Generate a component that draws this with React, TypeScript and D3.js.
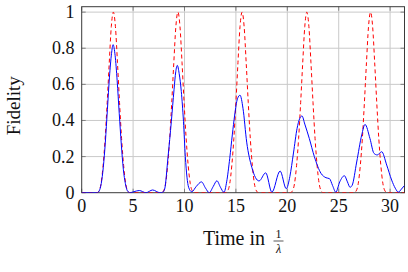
import React from "react";
import * as d3 from "d3";

// axis ticks
const xTicks = [0, 5, 10, 15, 20, 25, 30];
const yTicks = [0, 0.2, 0.4, 0.6, 0.8, 1];
const yTickLabels = ["0", "0.2", "0.4", "0.6", "0.8", "1"];

// red dashed series (time, fidelity)
const idealSeries: [number, number][] = [
  [0, 0], [1.48, 0], [1.68, 0.01], [1.88, 0.05], [2.08, 0.15], [2.28, 0.3], [2.48, 0.5], [2.68, 0.72], [2.88, 0.92],
  [3.08, 1], [3.28, 0.92], [3.48, 0.72], [3.68, 0.5], [3.88, 0.3], [4.08, 0.15], [4.28, 0.05], [4.48, 0.01], [4.68, 0],
  [7.76, 0], [7.96, 0.01], [8.16, 0.05], [8.36, 0.15], [8.56, 0.3], [8.76, 0.5], [8.96, 0.72], [9.16, 0.92],
  [9.36, 1], [9.56, 0.92], [9.76, 0.72], [9.96, 0.5], [10.16, 0.3], [10.36, 0.15], [10.56, 0.05], [10.76, 0.01], [10.96, 0],
  [14.0, 0], [14.2, 0.01], [14.4, 0.05], [14.6, 0.15], [14.8, 0.3], [15.0, 0.5], [15.2, 0.72], [15.4, 0.92],
  [15.6, 1], [15.8, 0.92], [16.0, 0.72], [16.2, 0.5], [16.4, 0.3], [16.6, 0.15], [16.8, 0.05], [17.0, 0.01], [17.2, 0],
  [20.3, 0], [20.5, 0.01], [20.7, 0.05], [20.9, 0.15], [21.1, 0.3], [21.3, 0.5], [21.5, 0.72], [21.7, 0.92],
  [21.9, 1], [22.1, 0.92], [22.3, 0.72], [22.5, 0.5], [22.7, 0.3], [22.9, 0.15], [23.1, 0.05], [23.3, 0.01], [23.5, 0],
  [26.5, 0], [26.7, 0.01], [26.9, 0.05], [27.1, 0.15], [27.3, 0.3], [27.5, 0.5], [27.7, 0.72], [27.9, 0.92],
  [28.1, 1], [28.3, 0.92], [28.5, 0.72], [28.7, 0.5], [28.9, 0.3], [29.1, 0.15], [29.3, 0.05], [29.5, 0.01], [29.7, 0],
  [31.4, 0],
];

// blue solid series (time, fidelity)
const actualSeries: [number, number][] = [
  [0, 0], [1.5, 0], [1.7, 0.01], [1.9, 0.05], [2.1, 0.14], [2.3, 0.28], [2.5, 0.46], [2.7, 0.64], [2.9, 0.77],
  [3.05, 0.82], [3.25, 0.76], [3.45, 0.62], [3.65, 0.44], [3.85, 0.27], [4.05, 0.13], [4.25, 0.05], [4.45, 0.01],
  [4.7, 0], [5.1, 0.006], [5.6, 0.012], [6.25, 0], [6.9, 0.015], [7.6, 0], [7.9, 0.003],
  [8.07, 0.02], [8.4, 0.2], [8.72, 0.395], [8.98, 0.57], [9.15, 0.67], [9.3, 0.705], [9.48, 0.66], [9.69, 0.56],
  [9.9, 0.395], [10.08, 0.2], [10.4, 0.03], [10.7, 0.005], [11.15, 0.035], [11.65, 0.06], [12.05, 0.025], [12.4, 0],
  [12.8, 0.035], [13.15, 0.066], [13.5, 0.03], [13.84, 0.002], [14.1, 0.06], [14.4, 0.19], [14.65, 0.32],
  [14.88, 0.43], [15.15, 0.52], [15.4, 0.54], [15.69, 0.467], [16.05, 0.28], [16.55, 0.14], [17.25, 0.065],
  [17.9, 0.11], [18.5, 0.003], [19.3, 0.12], [19.9, 0.022], [20.25, 0.09], [20.6, 0.22], [20.95, 0.356],
  [21.2, 0.41], [21.43, 0.425], [21.7, 0.38], [22.14, 0.3], [22.63, 0.2], [23.28, 0.107], [23.76, 0.083],
  [24.1, 0.078], [24.4, 0.04], [24.72, 0.003], [25.1, 0.06], [25.55, 0.094], [25.85, 0.06], [26.1, 0.03],
  [26.3, 0.04], [26.75, 0.17], [27.24, 0.32], [27.56, 0.378], [28.04, 0.3], [28.43, 0.218], [28.75, 0.209],
  [29.18, 0.227], [29.67, 0.153], [30.15, 0.07], [30.5, 0.025], [30.8, 0.003], [31.1, 0.02], [31.4, 0.04],
];

const FONT = "'Liberation Serif', 'Times New Roman', serif";

export default function App() {
  const width = 408, height = 272;
  const left = 81.7, right = 404.5, top = 6.7, bottom = 192.7;

  const x = d3.scaleLinear().domain([0, 31.4]).range([left, right]);
  const y = d3.scaleLinear().domain([0, 1.03]).range([bottom, top]);

  const line = d3
    .line<[number, number]>()
    .x((d) => x(d[0]))
    .y((d) => y(d[1]))
    .curve(d3.curveMonotoneX);

  const tickLen = 4;

  return (
    <svg
      width={width}
      height={height}
      style={{ position: "absolute", left: 0, top: 0, background: "#fff" }}
    >
      <defs>
        <clipPath id="plotClip">
          <rect x={left} y={top} width={right - left} height={bottom - top} />
        </clipPath>
      </defs>

      {/* grid */}
      <g stroke="#c9c9c9" strokeWidth={1}>
        {xTicks.slice(1).map((t) => (
          <line key={"gx" + t} x1={x(t)} x2={x(t)} y1={top} y2={bottom} />
        ))}
        {yTicks.slice(1).map((t) => (
          <line key={"gy" + t} x1={left} x2={right} y1={y(t)} y2={y(t)} />
        ))}
      </g>

      {/* tick marks, inside, on all sides */}
      <g stroke="#808080" strokeWidth={1}>
        {xTicks.map((t) => (
          <g key={"tx" + t}>
            <line x1={x(t)} x2={x(t)} y1={bottom} y2={bottom - tickLen} />
            <line x1={x(t)} x2={x(t)} y1={top} y2={top + tickLen} />
          </g>
        ))}
        {yTicks.map((t) => (
          <g key={"ty" + t}>
            <line x1={left} x2={left + tickLen} y1={y(t)} y2={y(t)} />
            <line x1={right} x2={right - tickLen} y1={y(t)} y2={y(t)} />
          </g>
        ))}
      </g>

      {/* frame */}
      <rect
        x={left}
        y={top}
        width={right - left}
        height={bottom - top}
        fill="none"
        stroke="#3a3a3a"
        strokeWidth={1}
      />

      {/* series, drawn over the frame so the zero line shows through */}
      <g clipPath="url(#plotClip)" fill="none">
        <path d={line(idealSeries) || ""} stroke="#ff0000" strokeWidth={1} strokeDasharray="4 3" />
        <path d={line(actualSeries) || ""} stroke="#0000ff" strokeWidth={1} />
      </g>

      {/* tick labels */}
      <g fontFamily={FONT} fontSize={18} fill="#111">
        {xTicks.map((t) => (
          <text key={"lx" + t} x={x(t)} y={212.3} textAnchor="middle">
            {t}
          </text>
        ))}
        {yTicks.map((t, i) => (
          <text key={"ly" + t} x={74.5} y={y(t) + 6} textAnchor="end">
            {yTickLabels[i]}
          </text>
        ))}
      </g>

      {/* axis labels */}
      <text
        fontFamily={FONT}
        fontSize={19}
        fill="#111"
        textAnchor="middle"
        transform={`translate(20,${(top + bottom) / 2 + 6}) rotate(-90)`}
      >
        Fidelity
      </text>
      <g fontFamily={FONT} fill="#111">
        <text x={265} y={245} fontSize={20} textAnchor="end">
          Time in
        </text>
        <text x={278.5} y={237.5} fontSize={12} textAnchor="middle">
          1
        </text>
        <line x1={273.5} x2={283.5} y1={241} y2={241} stroke="#111" strokeWidth={0.7} />
        <text x={278.5} y={252.5} fontSize={12} fontStyle="italic" textAnchor="middle">
          λ
        </text>
      </g>
    </svg>
  );
}
